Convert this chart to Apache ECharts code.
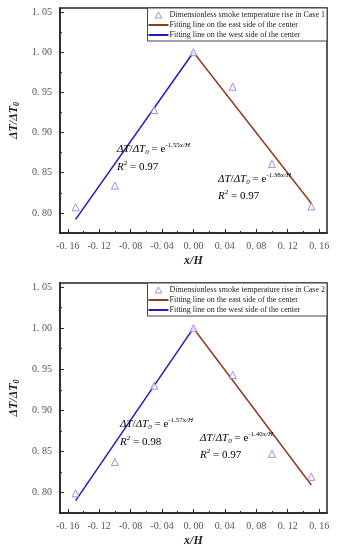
<!DOCTYPE html>
<html><head><meta charset="utf-8">
<script src="https://cdn.jsdelivr.net/npm/echarts@6/dist/echarts.min.js"></script>
<style>html,body{margin:0;padding:0;background:#fff}#c{width:342px;height:550px}</style>
</head><body><div id="c"></div>
<script>
const xPositions = [-0.15, -0.10, -0.05, 0.00, 0.05, 0.10, 0.15];
const case1Values = [0.807, 0.834, 0.928, 1.000, 0.957, 0.861, 0.808];
const case2Values = [0.799, 0.837, 0.930, 1.000, 0.943, 0.847, 0.819];
const case1West = [[-0.15, 0.792], [0.00, 1.000]];
const case1East = [[0.00, 1.000], [0.15, 0.812]];
const case2West = [[-0.15, 0.790], [0.00, 1.000]];
const case2East = [[0.00, 1.000], [0.15, 0.809]];
const xTicks = [-0.16, -0.12, -0.08, -0.04, 0.00, 0.04, 0.08, 0.12, 0.16];
const xMinorTicks = [-0.14, -0.10, -0.06, -0.02, 0.02, 0.06, 0.10, 0.14];
const yTicks = [0.80, 0.85, 0.90, 0.95, 1.00, 1.05];
const yMinorTicks = [0.775, 0.825, 0.875, 0.925, 0.975, 1.025];
const legendNames = ['Dimensionless smoke temperature rise in Case 1', 'Dimensionless smoke temperature rise in Case 2'];
const eastName = 'Fitting line on the east side of the center';
const westName = 'Fitting line on the west side of the center';
const fits = [
  {k: '-1.55', r2: '0.97', k2: '-1.38', r22: '0.97'},
  {k: '-1.57', r2: '0.98', k2: '-1.40', r22: '0.97'}
];

const FONT = 'Liberation Serif';
const fmt = v => (v < 0 ? '-' : '') + Math.abs(v).toFixed(2).replace('.', '. ');
const grids = [
  {left: 49, right: 15, top: 8, height: 225},
  {left: 49, right: 15, top: 283, height: 230}
];
const xAxes = [], yAxes = [], series = [], legends = [], graphics = [];
const rich = {
  n: {fontFamily: FONT, fontSize: 11, color: '#222'},
  i: {fontFamily: FONT, fontSize: 11, fontStyle: 'italic', color: '#222'},
  sub: {fontFamily: FONT, fontSize: 7, fontStyle: 'italic', color: '#222', padding: [6, 0, 0, 0]},
  sup: {fontFamily: FONT, fontSize: 7, color: '#222', padding: [0, 0, 7, 0]},
  supi: {fontFamily: FONT, fontSize: 7, fontStyle: 'italic', color: '#222', padding: [0, 0, 7, 0]}
};
const annPos = [
  [[117, 142], [117, 160], [218, 172], [218, 189]],
  [[120, 417], [120, 435], [200, 431], [200, 448]]
];
[0, 1].forEach(g => {
  xAxes.push({
    gridIndex: g, type: 'value', min: -0.17, max: 0.17,
    name: 'x/H', nameLocation: 'middle', nameGap: 22,
    nameTextStyle: {fontFamily: FONT, fontSize: 12, fontWeight: 'bold', fontStyle: 'italic', color: '#222'},
    axisLine: {onZero: false, lineStyle: {color: '#222', width: 1.5}},
    axisTick: {show: true, inside: true, length: 4, customValues: xTicks, lineStyle: {color: '#222'}},
    axisLabel: {customValues: xTicks, formatter: fmt, fontFamily: FONT, fontSize: 10, color: '#555', margin: 8},
    splitLine: {show: false}
  });
  xAxes.push({
    gridIndex: g, type: 'value', min: -0.17, max: 0.17, position: 'bottom',
    axisLine: {show: false, onZero: false}, axisLabel: {show: false}, splitLine: {show: false},
    axisTick: {show: true, inside: true, length: 2, customValues: xMinorTicks, lineStyle: {color: '#222'}}
  });
  yAxes.push({
    gridIndex: g, type: 'value', min: 0.775, max: 1.055,
    name: '{a|ΔT/ΔT}{b|0}', nameLocation: 'middle', nameGap: 24, nameRotate: 90,
    nameTextStyle: {rich: {
      a: {fontFamily: FONT, fontSize: 12, fontWeight: 'bold', fontStyle: 'italic', color: '#222'},
      b: {fontFamily: FONT, fontSize: 8, fontWeight: 'bold', fontStyle: 'italic', color: '#222', padding: [6, 0, 0, 0]}
    }},
    axisLine: {show: true, onZero: false, lineStyle: {color: '#222', width: 1.5}},
    axisTick: {show: true, inside: true, length: 4, customValues: yTicks, lineStyle: {color: '#222'}},
    axisLabel: {customValues: yTicks, formatter: fmt, fontFamily: FONT, fontSize: 10, color: '#555', margin: 8},
    splitLine: {show: false}
  });
  yAxes.push({
    gridIndex: g, type: 'value', min: 0.775, max: 1.055, position: 'left',
    axisLine: {show: false, onZero: false}, axisLabel: {show: false}, splitLine: {show: false},
    axisTick: {show: true, inside: true, length: 2, customValues: yMinorTicks, lineStyle: {color: '#222'}}
  });
  const vals = g === 0 ? case1Values : case2Values;
  series.push({
    name: legendNames[g], type: 'scatter', xAxisIndex: 2 * g, yAxisIndex: 2 * g,
    symbol: 'triangle', symbolSize: 7, z: 5,
    itemStyle: {color: '#fff', borderColor: '#9b6bd6', borderWidth: 1},
    data: xPositions.map((x, i) => [x, vals[i]])
  });
  series.push({
    name: eastName, type: 'line', xAxisIndex: 2 * g, yAxisIndex: 2 * g,
    showSymbol: false, symbol: 'none', lineStyle: {color: '#8b3e1e', width: 1.5}, itemStyle: {color: '#8b3e1e'},
    data: g === 0 ? case1East : case2East
  });
  series.push({
    name: westName, type: 'line', xAxisIndex: 2 * g, yAxisIndex: 2 * g,
    showSymbol: false, symbol: 'none', lineStyle: {color: '#1c1cc0', width: 1.5}, itemStyle: {color: '#1c1cc0'},
    data: g === 0 ? case1West : case2West
  });
  legends.push({
    orient: 'vertical', right: 15, top: grids[g].top, itemGap: 2, itemWidth: 20, itemHeight: 6,
    padding: [3, 2, 2, 0], backgroundColor: '#fff', borderColor: '#444', borderWidth: 1, borderRadius: 0,
    symbolKeepAspect: true,
    data: [
      {name: legendNames[g], icon: 'path://M5,0 L10,9 L0,9 Z', itemStyle: {color: '#fff', borderColor: '#9b6bd6', borderWidth: 1}},
      {name: eastName, itemStyle: {opacity: 0}},
      {name: westName, itemStyle: {opacity: 0}}
    ],
    textStyle: {fontFamily: FONT, fontSize: 8, color: '#222', padding: [0, 0, 0, -4]},
    selectedMode: false
  });
  const f = fits[g], p = annPos[g];
  graphics.push({type: 'text', left: p[0][0], top: p[0][1], z: 10,
    style: {text: '{i|ΔT}{n|/}{i|ΔT}{sub|0}{n| = e}{sup|' + f.k + '}{supi|x/H}', rich: rich}});
  graphics.push({type: 'text', left: p[1][0], top: p[1][1], z: 10,
    style: {text: '{i|R}{sup|2}{n| = ' + f.r2 + '}', rich: rich}});
  graphics.push({type: 'text', left: p[2][0], top: p[2][1], z: 10,
    style: {text: '{i|ΔT}{n|/}{i|ΔT}{sub|0}{n| = e}{sup|' + f.k2 + '}{supi|x/H}', rich: rich}});
  graphics.push({type: 'text', left: p[3][0], top: p[3][1], z: 10,
    style: {text: '{i|R}{sup|2}{n| = ' + f.r22 + '}', rich: rich}});
});
const chart = echarts.init(document.getElementById('c'), null, {renderer: 'canvas'});
chart.setOption({
  backgroundColor: '#fff',
  animation: false,
  grid: grids.map(g => Object.assign({show: true, borderColor: '#222', borderWidth: 1.5, backgroundColor: 'transparent'}, g)),
  xAxis: xAxes, yAxis: yAxes, series: series, legend: legends, graphic: graphics
});
</script></body></html>
